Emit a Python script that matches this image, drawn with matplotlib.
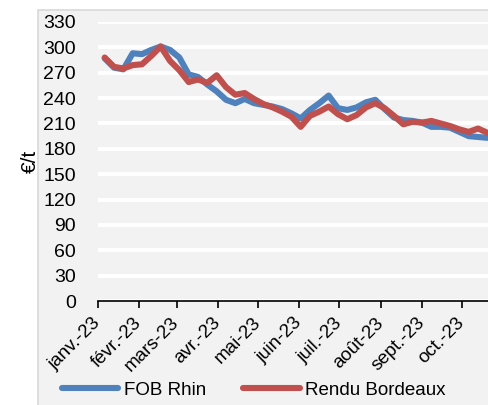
import numpy as np
import pandas as pd
import matplotlib
matplotlib.use('Agg')
import matplotlib.pyplot as plt
from matplotlib.patches import Rectangle

plt.rcParams['font.family'] = ['Liberation Sans', 'DejaVu Sans']

# Weekly prices (EUR/t)
dates = pd.date_range('2023-01-06', periods=42, freq='W-FRI')
fob_rhin = [287, 276, 274, 293, 292, 297, 301, 297, 288, 268,
            265, 256, 248, 238, 234, 239, 234, 232, 230, 227,
            222, 216, 226, 234, 243, 228, 226, 229, 235, 238,
            227, 217, 214, 213, 211, 206, 206, 205, 200, 195,
            194, 193]
rendu_bordeaux = [288, 277, 275, 279, 280, 290, 301, 284, 273, 259,
                  262, 258, 267, 253, 244, 246, 239, 233, 229, 224,
                  218, 206, 219, 224, 230, 221, 215, 220, 229, 234,
                  228, 219, 209, 212, 211, 213, 210, 207, 203, 200,
                  204, 199]

month_ticks = pd.date_range('2023-01-01', periods=10, freq='MS')
month_labels = ['janv.-23', 'févr.-23', 'mars-23', 'avr.-23', 'mai-23',
                'juin-23', 'juil.-23', 'août-23', 'sept.-23', 'oct.-23']
y_ticks = list(range(0, 331, 30))

fig = plt.figure(figsize=(4.88, 4.05), dpi=100)
fig.patch.set_facecolor('white')

# Grey chart area with a thin border on the left
fig.patches.append(Rectangle((38 / 488, -0.01), 1, (405 - 10) / 405 + 0.01,
                             transform=fig.transFigure, facecolor='#f2f2f2',
                             edgecolor='#d9d9d9', linewidth=1.2, zorder=-10))

ax = fig.add_axes([98 / 488, (405 - 301) / 405, 1 - 98 / 488, 279 / 405])
ax.set_facecolor('#f2f2f2')

ax.plot(dates, fob_rhin, color='#4f81bd', lw=4.4, label='FOB Rhin',
        solid_capstyle='round', solid_joinstyle='round', zorder=3)
ax.plot(dates, rendu_bordeaux, color='#c0504d', lw=4.4, label='Rendu Bordeaux',
        solid_capstyle='round', solid_joinstyle='round', zorder=4)

ax.set_ylim(0, 330)
ax.set_yticks(y_ticks)
ax.set_xlim(pd.Timestamp('2023-01-01'), pd.Timestamp('2023-01-01') + pd.Timedelta(days=292.5))
ax.set_xticks(month_ticks)
ax.set_xticklabels(month_labels, rotation=45, ha='right', va='center',
                   rotation_mode='anchor', fontsize=13.5)

ax.grid(axis='y', color='white', lw=2.8)
ax.set_axisbelow(True)
for s in ['top', 'right', 'left']:
    ax.spines[s].set_visible(False)
ax.spines['bottom'].set_color('black')
ax.spines['bottom'].set_linewidth(1.2)
ax.spines['bottom'].set_zorder(5)

ax.tick_params(axis='y', length=0, labelsize=14, pad=16)
ax.tick_params(axis='x', length=5, width=1.2, color='black', pad=9)

ax.set_ylabel('€/t', fontsize=15, labelpad=2)

fig.legend(loc='center', bbox_to_anchor=(0.52, 0.037), ncol=2, frameon=False,
           fontsize=13.5, handlelength=3.0, handletextpad=0.3, columnspacing=2.0)

fig.savefig('out.png', dpi=100, facecolor=fig.get_facecolor())
